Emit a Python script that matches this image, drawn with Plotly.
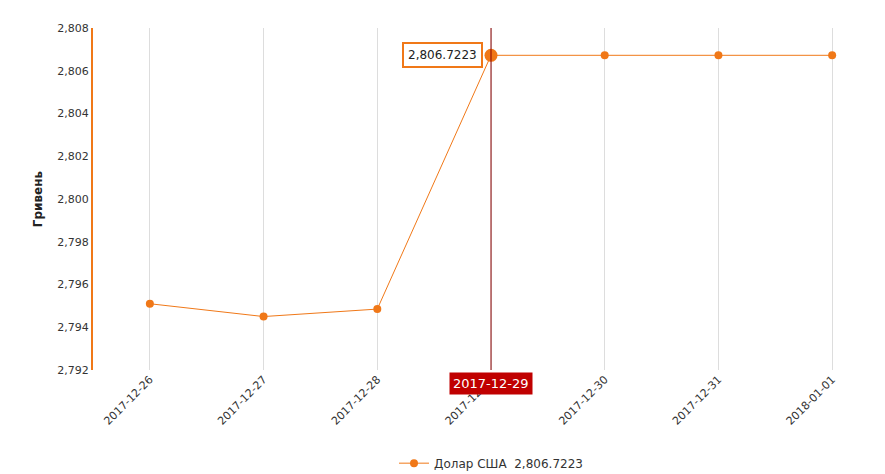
import plotly.graph_objects as go

dates = ["2017-12-26","2017-12-27","2017-12-28","2017-12-29","2017-12-30","2017-12-31","2018-01-01"]
values = [2795.1, 2794.5, 2794.85, 2806.7223, 2806.7223, 2806.7223, 2806.7223]
series_name = "Долар США  2,806.7223"
hover_idx = 3
orange = "#f07818"

fig = go.Figure()
fig.add_trace(go.Scatter(x=dates, y=values, mode="lines+markers", name=series_name,
    line=dict(color=orange, width=1), marker=dict(size=8, color=orange)))
fig.add_trace(go.Scatter(x=[dates[hover_idx]], y=[values[hover_idx]], mode="markers",
    marker=dict(size=13, color=orange), showlegend=False, hoverinfo="skip"))

fig.add_shape(type="line", x0=dates[hover_idx], x1=dates[hover_idx], y0=0, y1=1,
    yref="paper", line=dict(color="#8b0000", width=1))
fig.add_annotation(x=dates[hover_idx], y=values[hover_idx], text="2,806.7223",
    xanchor="right", xshift=-8, showarrow=False, bgcolor="white",
    bordercolor=orange, borderwidth=2, borderpad=4, font=dict(size=12, color="#222"))
fig.add_annotation(x=dates[hover_idx], y=0, yref="paper", yanchor="top", yshift=-2,
    text="2017-12-29", showarrow=False, bgcolor="#c00000",
    font=dict(size=13, color="white"), borderpad=3)

fig.update_layout(
    width=885, height=474, plot_bgcolor="white", paper_bgcolor="white",
    margin=dict(l=85, r=4, t=20, b=112, autoexpand=False),
    font=dict(family="DejaVu Sans, Verdana, sans-serif", size=11, color="#333"),
    showlegend=True,
    legend=dict(orientation="h", x=0.5, xanchor="center", y=-0.23, yanchor="top",
                font=dict(size=12)),
    xaxis=dict(type="category", range=[-0.5, 6.5], showgrid=True, gridcolor="#dddddd",
               tickangle=-45, ticks="", showline=False, zeroline=False, automargin=False),
    yaxis=dict(range=[2792, 2808], dtick=2, tickformat=",d", showgrid=False,
               showline=True, linecolor=orange, linewidth=2, zeroline=False, automargin=False,
               title=dict(text="<b>Гривень</b>", font=dict(size=12, color="#222"), standoff=12)),
)
fig.write_html("out.html")
